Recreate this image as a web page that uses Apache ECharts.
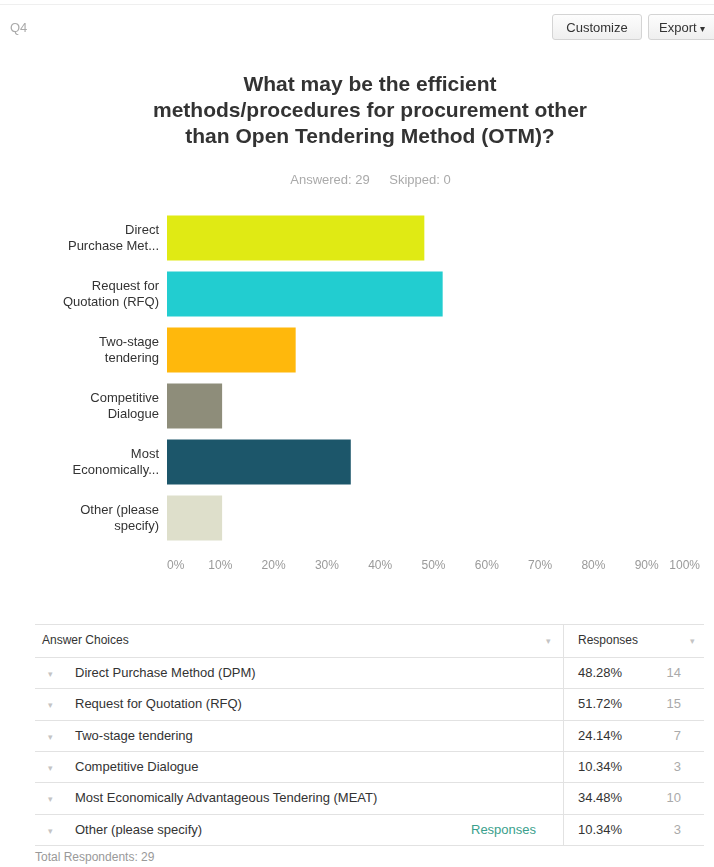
<!DOCTYPE html>
<html>
<head>
<meta charset="utf-8">
<script src="https://cdn.jsdelivr.net/npm/echarts@6/dist/echarts.min.js"></script>
<style>
  html, body { margin: 0; padding: 0; background: #fff; }
  body { width: 714px; height: 867px; position: relative; overflow: hidden;
         font-family: "Liberation Sans", Arial, sans-serif; }
  #chart { position: absolute; left: 0; top: 0; width: 714px; height: 600px; }
  .topline { position: absolute; left: 0; top: 4px; width: 714px; height: 1px; background: #efefef; }
  .qnum { position: absolute; left: 10px; top: 20px; font-size: 13px; color: #aaa; }
  .btn { position: absolute; top: 14px; height: 26px; line-height: 26px; font-size: 13px; color: #333;
         border: 1px solid #d4d4d4; border-radius: 3px; box-sizing: border-box;
         background: linear-gradient(#fdfdfd, #efefef); padding: 0 10px; }
  .btn.customize { left: 552px; width: 90px; text-align: center; }
  .btn.export { left: 648px; width: 80px; }
  .btn .caret { font-size: 10px; margin-left: 3px; }
  #tbl { position: absolute; left: 35px; top: 624px; width: 669px; height: 222px; }
  .hline { position: absolute; left: 0; width: 669px; height: 1px; background: #e2e2e2; }
  .vline { position: absolute; left: 528px; top: 0; width: 1px; height: 221px; background: #e2e2e2; }
  .cell { position: absolute; font-size: 13px; color: #333; white-space: nowrap; line-height: 16px; }
  .muted { color: #aaa; }
  .arrow { position: absolute; font-size: 9px; color: #c4c4c4; line-height: 16px; }
  .link { color: #3a9f8c; }
  .total { position: absolute; left: 35px; top: 850px; font-size: 12px; color: #999; }
</style>
</head>
<body>
<div id="chart"></div>
<div class="topline"></div>
<div class="qnum">Q4</div>
<div class="btn customize">Customize</div>
<div class="btn export">Export<span class="caret">▾</span></div>
<div id="tbl"></div>
<div class="total">Total Respondents: 29</div>

<script>
// Answer choices as shown on the bar axis (shortened) and in the table (full)
const axisLabels = [
  'Direct\nPurchase Met...',
  'Request for\nQuotation (RFQ)',
  'Two-stage\ntendering',
  'Competitive\nDialogue',
  'Most\nEconomically...',
  'Other (please\nspecify)'
];
const choiceNames = [
  'Direct Purchase Method (DPM)',
  'Request for Quotation (RFQ)',
  'Two-stage tendering',
  'Competitive Dialogue',
  'Most Economically Advantageous Tendering (MEAT)',
  'Other (please specify)'
];
// Share of respondents (%) and response counts
const percents = [48.28, 51.72, 24.14, 10.34, 34.48, 10.34];
const counts = [14, 15, 7, 3, 10, 3];
const answered = 29;
const skipped = 0;

// Bar palette, one colour per answer choice
const palette = ['#e0ea14', '#22cdd0', '#ffb80c', '#8e8d7a', '#1c566a', '#dedfcb'];

const chart = echarts.init(document.getElementById('chart'), null, { renderer: 'canvas' });

chart.setOption({
  backgroundColor: '#fff',
  animation: false,
  textStyle: { fontFamily: 'Liberation Sans, Arial, sans-serif' },
  graphic: [
    {
      type: 'text',
      x: 370, y: 72,
      style: {
        text: 'What may be the efficient\nmethods/procedures for procurement other\nthan Open Tendering Method (OTM)?',
        font: 'bold 21px "Liberation Sans", Arial, sans-serif',
        lineHeight: 26,
        align: 'center',
        fill: '#333'
      }
    },
    {
      type: 'text',
      x: 330, y: 174,
      style: {
        text: 'Answered: ' + answered,
        font: '13px "Liberation Sans", Arial, sans-serif',
        align: 'center',
        fill: '#aaa'
      }
    },
    {
      type: 'text',
      x: 420, y: 174,
      style: {
        text: 'Skipped: ' + skipped,
        font: '13px "Liberation Sans", Arial, sans-serif',
        align: 'center',
        fill: '#aaa'
      }
    }
  ],
  grid: { left: 167, top: 210, width: 533, height: 336, containLabel: false },
  xAxis: {
    type: 'value',
    min: 0, max: 100, interval: 10,
    axisLine: { show: false },
    axisTick: { show: false },
    splitLine: { show: false },
    axisLabel: {
      formatter: '{value}%',
      color: '#9a9a9a',
      fontSize: 12,
      margin: 14,
      alignMinLabel: 'left',
      alignMaxLabel: 'right'
    }
  },
  yAxis: {
    type: 'category',
    inverse: true,
    data: axisLabels,
    axisLine: { show: false },
    axisTick: { show: false },
    axisLabel: {
      color: '#333',
      fontSize: 13,
      lineHeight: 16,
      margin: 8,
      align: 'right'
    }
  },
  series: [{
    type: 'bar',
    barCategoryGap: '20%',
    data: percents.map((v, i) => ({ value: v, itemStyle: { color: palette[i] } })),
    silent: true
  }]
});

// Response table built from the same arrays
(function buildTable() {
  const tbl = document.getElementById('tbl');
  const add = (cls, left, top, text, extra) => {
    const d = document.createElement('div');
    d.className = cls;
    d.style.left = left + 'px';
    d.style.top = top + 'px';
    d.textContent = text;
    if (extra) Object.assign(d.style, extra);
    tbl.appendChild(d);
    return d;
  };
  const headerH = 33, rowH = 31.33;
  add('hline', 0, 0, '');
  add('hline', 0, headerH, '');
  add('cell', 7, 8, 'Answer Choices', { fontSize: '12px' });
  add('arrow', 511, 9, '▾');
  add('cell', 543, 8, 'Responses', { fontSize: '12px' });
  add('arrow', 655, 9, '▾');
  choiceNames.forEach((name, i) => {
    const top = headerH + i * rowH;
    const textTop = top + 8;
    add('arrow', 13, textTop + 1, '▾');
    add('cell', 40, textTop, name);
    if (i === choiceNames.length - 1) add('cell link', 436, textTop, 'Responses');
    add('cell', 543, textTop, percents[i].toFixed(2) + '%');
    add('cell muted', 606, textTop, String(counts[i]), { width: '40px', textAlign: 'right' });
    add('hline', 0, Math.round(top + rowH), '');
  });
  add('vline', 528, 0, '');
})();
</script>
</body>
</html>
